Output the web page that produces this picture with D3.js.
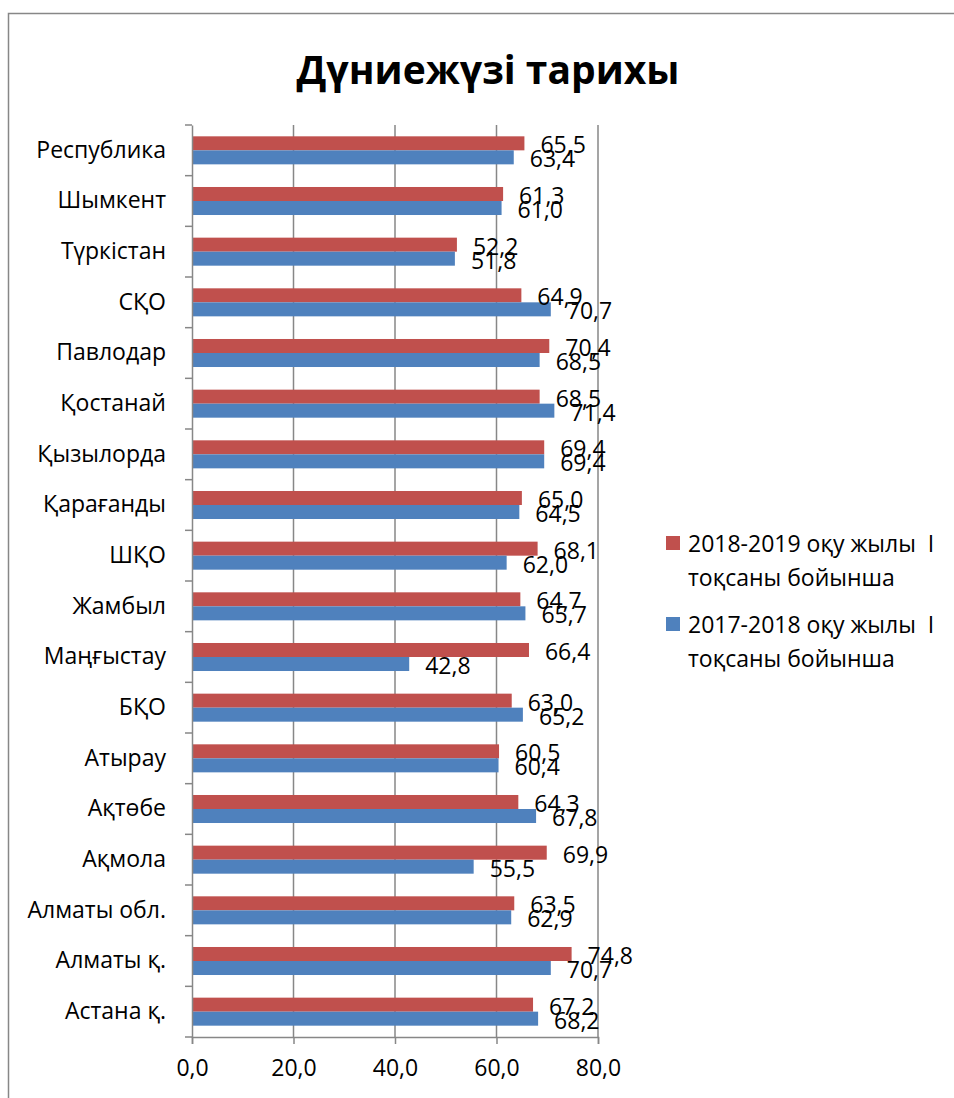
<!DOCTYPE html>
<html lang="kk">
<head>
  <meta charset="UTF-8">
  <title>Дүниежүзі тарихы</title>
  <script src="https://cdn.jsdelivr.net/npm/d3@7.9.0/dist/d3.min.js"></script>
  <style>
    html, body {
      margin: 0;
      padding: 0;
      background: #fff;
    }
    svg text {
      font-family: "Open Sans", "Noto Sans", sans-serif;
      fill: #000;
    }
  </style>
</head>
<body>
  <svg id="chart" width="954" height="1098"></svg>

  <script>
    // --- Data ---
    const regions = [
      "Республика", "Шымкент", "Түркістан", "СҚО", "Павлодар", "Қостанай",
      "Қызылорда", "Қарағанды", "ШҚО", "Жамбыл", "Маңғыстау", "БҚО",
      "Атырау", "Ақтөбе", "Ақмола", "Алматы обл.", "Алматы қ.", "Астана қ."
    ];
    const values2018 = [65.5, 61.3, 52.2, 64.9, 70.4, 68.5, 69.4, 65.0, 68.1,
      64.7, 66.4, 63.0, 60.5, 64.3, 69.9, 63.5, 74.8, 67.2];
    const values2017 = [63.4, 61.0, 51.8, 70.7, 68.5, 71.4, 69.4, 64.5, 62.0,
      65.7, 42.8, 65.2, 60.4, 67.8, 55.5, 62.9, 70.7, 68.2];
    const xTicks = [0, 20, 40, 60, 80];
    const seriesNames = [
      ["2018-2019 оқу жылы  I", "тоқсаны бойынша"],
      ["2017-2018 оқу жылы  I", "тоқсаны бойынша"]
    ];
    const seriesKeys = ["s2018", "s2017"];
    const colors = ["#C0504D", "#4F81BD"];

    const rows = regions.map((r, i) => ({ region: r, s2018: values2018[i], s2017: values2017[i] }));

    // --- Layout ---
    const svg = d3.select("#chart");
    const plot = { left: 192, right: 598, top: 125, bottom: 1037 };
    const grid = "#878787";
    const fs = "23px";
    const fmt = v => d3.format(".1f")(v).replace(".", ",");

    // chart border (only left & top edges fall inside the picture)
    svg.append("rect")
      .attr("x", 8.5).attr("y", 13.5)
      .attr("width", 1000).attr("height", 1200)
      .attr("fill", "none")
      .attr("stroke", grid)
      .attr("stroke-width", 1.5);

    svg.append("text")
      .attr("x", 488).attr("y", 68)
      .attr("text-anchor", "middle")
      .attr("dominant-baseline", "central")
      .style("font-size", "39px")
      .style("font-weight", "bold")
      .text("Дүниежүзі тарихы");

    const x = d3.scaleLinear().domain([0, 80]).range([plot.left, plot.right]);
    const y = d3.scaleBand().domain(regions).range([plot.top, plot.bottom])
      .paddingInner(0.447).paddingOuter(0.2235);
    const ySub = d3.scaleBand().domain(seriesKeys).range([0, y.bandwidth()]);

    // vertical gridlines
    svg.append("g")
      .selectAll("line")
      .data(xTicks.slice(1))
      .join("line")
      .attr("x1", d => x(d)).attr("x2", d => x(d))
      .attr("y1", plot.top).attr("y2", plot.bottom)
      .attr("stroke", grid)
      .attr("stroke-width", 1.5);

    // bars
    const groups = svg.append("g")
      .selectAll("g")
      .data(rows)
      .join("g")
      .attr("transform", d => `translate(0,${y(d.region)})`);

    groups.selectAll("rect")
      .data(d => seriesKeys.map((k, i) => ({ key: k, value: d[k], i })))
      .join("rect")
      .attr("x", x(0))
      .attr("y", d => ySub(d.key))
      .attr("width", d => x(d.value) - x(0))
      .attr("height", ySub.bandwidth())
      .attr("fill", d => colors[d.i]);

    // data labels
    groups.selectAll("text")
      .data(d => seriesKeys.map((k, i) => ({ key: k, value: d[k], i })))
      .join("text")
      .attr("x", d => x(d.value) + 16)
      .attr("y", d => ySub(d.key) + ySub.bandwidth() / 2 + 1)
      .attr("dominant-baseline", "central")
      .style("font-size", fs)
      .text(d => fmt(d.value));

    // y axis
    const yAxis = svg.append("g")
      .attr("transform", `translate(${plot.left},0)`)
      .call(d3.axisLeft(y).tickSize(0).tickPadding(26));
    yAxis.select(".domain").attr("stroke", grid).attr("stroke-width", 1.5);
    yAxis.selectAll("text")
      .style("font-size", fs)
      .style("font-family", "\"Open Sans\", sans-serif");
    // category boundary ticks
    const step = y.step();
    svg.append("g")
      .selectAll("line")
      .data(d3.range(regions.length + 1))
      .join("line")
      .attr("x1", plot.left - 7).attr("x2", plot.left)
      .attr("y1", i => plot.top + i * step).attr("y2", i => plot.top + i * step)
      .attr("stroke", grid)
      .attr("stroke-width", 1.5);

    // x axis
    const xAxis = svg.append("g")
      .attr("transform", `translate(0,${plot.bottom})`)
      .call(d3.axisBottom(x).tickValues(xTicks).tickFormat(fmt).tickSize(7).tickPadding(16));
    xAxis.select(".domain").attr("stroke", grid).attr("stroke-width", 1.5);
    xAxis.selectAll("line").attr("stroke", grid).attr("stroke-width", 1.5);
    xAxis.selectAll("text")
      .style("font-size", fs)
      .style("font-family", "\"Open Sans\", sans-serif");

    // legend
    const legend = svg.append("g")
      .selectAll("g")
      .data(seriesNames)
      .join("g")
      .attr("transform", (d, i) => `translate(666,${543 + i * 81})`);
    legend.append("rect")
      .attr("x", 0).attr("y", -7)
      .attr("width", 14).attr("height", 14)
      .attr("fill", (d, i) => colors[i]);
    legend.append("text")
      .attr("x", 22)
      .attr("xml:space", "preserve")
      .style("white-space", "pre")
      .style("font-size", fs)
      .selectAll("tspan")
      .data(d => d)
      .join("tspan")
      .attr("x", 22)
      .attr("y", (d, i) => i * 34)
      .attr("dominant-baseline", "central")
      .text(d => d);
  </script>
</body>
</html>
